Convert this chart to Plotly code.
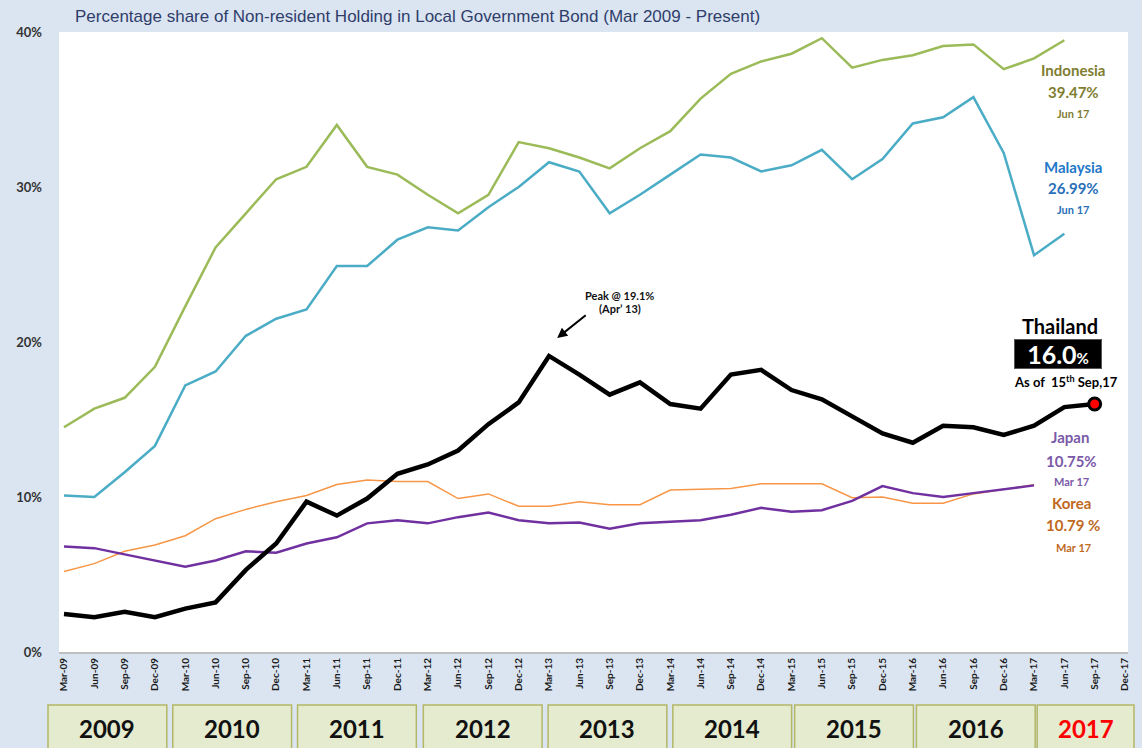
import plotly.graph_objects as go

quarters = ["Mar", "Jun", "Sep", "Dec"]
years = [2009, 2010, 2011, 2012, 2013, 2014, 2015, 2016, 2017]
tick_labels = [f"{q}-{str(y)[2:]}" for y in years for q in quarters]

indonesia = [14.5, 15.7, 16.4, 18.4, 22.3, 26.1, 28.3, 30.5, 31.3, 34.0, 31.3, 30.8,
             29.5, 28.3, 29.5, 32.9, 32.5, 31.9, 31.2, 32.5, 33.6, 35.7, 37.3, 38.1,
             38.6, 39.6, 37.7, 38.2, 38.5, 39.1, 39.2, 37.6, 38.3, 39.47]
malaysia = [10.1, 10.0, 11.6, 13.3, 17.2, 18.1, 20.4, 21.5, 22.1, 24.9, 24.9, 26.6,
            27.4, 27.2, 28.7, 30.0, 31.6, 31.0, 28.3, 29.5, 30.8, 32.1, 31.9, 31.0,
            31.4, 32.4, 30.5, 31.8, 34.1, 34.5, 35.8, 32.2, 25.6, 26.99]
thailand = [2.45, 2.25, 2.6, 2.25, 2.8, 3.2, 5.3, 7.0, 9.7, 8.8, 9.9, 11.5,
            12.1, 13.0, 14.7, 16.1, 19.1, 17.9, 16.6, 17.4, 16.0, 15.7, 17.9, 18.2,
            16.9, 16.3, 15.2, 14.1, 13.5, 14.6, 14.5, 14.0, 14.6, 15.8, 16.0]
japan = [6.8, 6.7, 6.3, 5.9, 5.5, 5.9, 6.5, 6.4, 7.0, 7.4, 8.3, 8.5,
         8.3, 8.7, 9.0, 8.5, 8.3, 8.35, 7.95, 8.3, 8.4, 8.5, 8.85, 9.3,
         9.05, 9.15, 9.75, 10.7, 10.25, 10.0, 10.25, 10.5, 10.75]
korea = [5.2, 5.7, 6.5, 6.9, 7.5, 8.6, 9.2, 9.7, 10.1, 10.8, 11.1, 11.0,
         11.0, 9.9, 10.2, 9.4, 9.4, 9.7, 9.5, 9.5, 10.45, 10.5, 10.55, 10.85,
         10.85, 10.85, 9.95, 10.0, 9.6, 9.6, 10.2, 10.5, 10.79]
y_ticks = [0, 10, 20, 30, 40]

fig = go.Figure()

def add_line(vals, color, width, name):
    fig.add_trace(go.Scatter(x=list(range(len(vals))), y=vals, mode="lines",
                             line=dict(color=color, width=width), name=name,
                             showlegend=False, hoverinfo="skip"))

add_line(korea, "#f79646", 1.5, "Korea")
add_line(japan, "#7030a0", 2.5, "Japan")
add_line(malaysia, "#4bacc6", 2.5, "Malaysia")
add_line(indonesia, "#9bbb59", 2.5, "Indonesia")
add_line(thailand, "#000000", 4.5, "Thailand")

last = len(thailand) - 1
fig.add_trace(go.Scatter(x=[last], y=[thailand[last]], mode="markers",
                         marker=dict(color="#ff0000", size=12,
                                     line=dict(color="#000000", width=3)),
                         showlegend=False, cliponaxis=False, hoverinfo="skip"))

BG = "#dbe5f1"
font_b = "Lato, Open Sans, sans-serif"

# year-box layout (pixel positions in the figure)
PLOT_L, PLOT_W = 59, 1071
box_left_px = [48, 173, 298, 424, 549, 674, 796, 918, 1039]
box_w_px = 119

shapes = []
annotations = []
for k, yr in enumerate(years):
    l_px = box_left_px[k]
    r_px = min(l_px + box_w_px, 1136)
    x0 = (l_px - PLOT_L) / PLOT_W
    x1 = (r_px - PLOT_L) / PLOT_W
    shapes.append(dict(type="rect", xref="paper", yref="paper", x0=x0, x1=x1,
                       y0=-0.17, y1=-0.0855, fillcolor="#e4ebcf",
                       line=dict(color="#b3b766", width=1.5), layer="above"))
    annotations.append(dict(x=(x0 + x1) / 2, y=-0.1226, xref="paper", yref="paper",
                            xanchor="center", yanchor="middle",
                            text=f"<b>{yr}</b>", showarrow=False,
                            font=dict(family=font_b, size=24,
                                      color="#ff0000" if yr == 2017 else "#111111")))

def txt(x, y, text, size, color, **kw):
    annotations.append(dict(x=x, y=y, xref="x", yref="y", text=text, showarrow=False,
                            font=dict(family=font_b, size=size, color=color), **kw))

olive = "#7f7d32"
txt(33.29, 37.55, "<b>Indonesia</b>", 15, olive)
txt(33.29, 36.13, "<b>39.47%</b>", 15, olive)
txt(33.29, 34.77, "<b>Jun 17</b>", 11, olive)
blue = "#1f78c8"
txt(33.29, 31.29, "<b>Malaysia</b>", 15, blue)
txt(33.29, 29.94, "<b>26.99%</b>", 15, "#2a6fb8")
txt(33.29, 28.52, "<b>Jun 17</b>", 11, "#2a6fb8")
txt(32.86, 21.03, "<b>Thailand</b>", 20, "#000000")
txt(32.8, 19.23, "<b>16.0<span style='font-size:15px'>%</span></b>", 25, "#ffffff",
    bgcolor="#000000", bordercolor="#555555", borderwidth=1, borderpad=1,
    width=84, height=26)
txt(33.06, 17.48, "<b>As of  15<sup>th</sup> Sep,17</b>", 13, "#000000")
purple = "#7a5aa8"
txt(33.19, 13.87, "<b>Japan</b>", 15, purple)
txt(33.22, 12.32, "<b>10.75%</b>", 15, purple)
txt(33.25, 10.97, "<b>Mar 17</b>", 11, purple)
orange = "#c0691f"
txt(33.22, 9.61, "<b>Korea</b>", 15, orange)
txt(33.29, 8.19, "<b>10.79 %</b>", 15, orange)
txt(33.29, 6.77, "<b>Mar 17</b>", 11, orange)
txt(18.34, 23.03, "<b>Peak @ 19.1%</b>", 11, "#111111")
txt(18.34, 22.13, "<b>(Apr\u2019 13)</b>", 11, "#111111")
annotations.append(dict(x=16.27, y=20.26, xref="x", yref="y", ax=30, ay=-24,
                        text="", showarrow=True, arrowhead=2, arrowsize=1,
                        arrowwidth=2, arrowcolor="#000000"))

fig.update_layout(
    width=1142, height=748,
    margin=dict(l=59, r=12, t=32, b=96),
    paper_bgcolor=BG, plot_bgcolor="#ffffff",
    hovermode=False,
    title=dict(text="Percentage share of Non-resident Holding in Local Government Bond (Mar 2009 - Present)",
               x=75 / 1142, xanchor="left", y=1 - 16 / 748, yanchor="middle",
               font=dict(family="Liberation Sans, Arial, sans-serif", size=17, color="#2f3d6b")),
    xaxis=dict(range=[-0.165, 35.1], tickmode="array", tickvals=list(range(36)),
               ticktext=[f"<b>{t}</b>" for t in tick_labels], tickangle=-90,
               tickfont=dict(family=font_b, size=10, color="#1a1a1a"),
               showgrid=False, zeroline=False, showline=True, linecolor="#bfbfbf",
               linewidth=2, ticks=""),
    yaxis=dict(range=[0, 40], tickmode="array", tickvals=y_ticks,
               ticktext=[f"<b>{v}%</b>" for v in y_ticks],
               tickfont=dict(family=font_b, size=13, color="#333333"),
               showgrid=False, zeroline=False, showline=False, ticks="",
               ticklabelstandoff=16),
    shapes=shapes, annotations=annotations,
)

fig.write_html("out.html", config={"displayModeBar": False},
               post_script="document.body.style.margin='0px';document.body.style.overflow='hidden';")
